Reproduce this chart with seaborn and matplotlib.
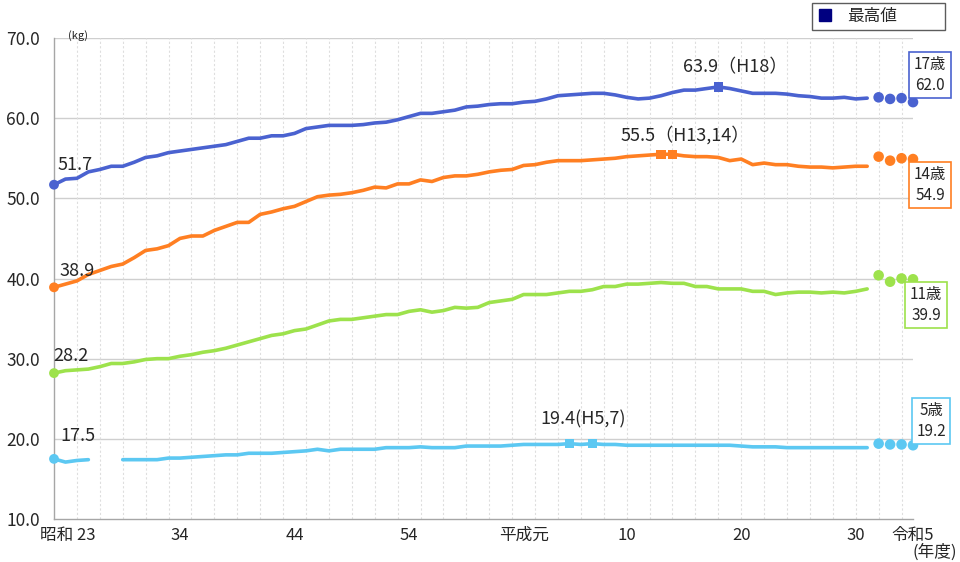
import numpy as np
import pandas as pd
import matplotlib
matplotlib.use("Agg")
import matplotlib.pyplot as plt
import seaborn as sns
from matplotlib.lines import Line2D
from matplotlib.transforms import blended_transform_factory

# ---------------- data ----------------
years = list(range(1948, 2020))
w17 = [51.7, 52.4, 52.5, 53.3, 53.6, 54.0, 54.0, 54.5, 55.1, 55.3,
       55.7, 55.9, 56.1, 56.3, 56.5, 56.7, 57.1, 57.5, 57.5, 57.8,
       57.8, 58.1, 58.7, 58.9, 59.1, 59.1, 59.1, 59.2, 59.4, 59.5,
       59.8, 60.2, 60.6, 60.6, 60.8, 61.0, 61.4, 61.5, 61.7, 61.8,
       61.8, 62.0, 62.1, 62.4, 62.8, 62.9, 63.0, 63.1, 63.1, 62.9,
       62.6, 62.4, 62.5, 62.8, 63.2, 63.5, 63.5, 63.7, 63.9, 63.7,
       63.4, 63.1, 63.1, 63.1, 63.0, 62.8, 62.7, 62.5, 62.5, 62.6,
       62.4, 62.5]
w14 = [38.9, 39.3, 39.7, 40.5, 41.0, 41.5, 41.8, 42.6, 43.5, 43.7,
       44.1, 45.0, 45.3, 45.3, 46.0, 46.5, 47.0, 47.0, 48.0, 48.3,
       48.7, 49.0, 49.6, 50.2, 50.4, 50.5, 50.7, 51.0, 51.4, 51.3,
       51.8, 51.8, 52.3, 52.1, 52.6, 52.8, 52.8, 53.0, 53.3, 53.5,
       53.6, 54.1, 54.2, 54.5, 54.7, 54.7, 54.7, 54.8, 54.9, 55.0,
       55.2, 55.3, 55.4, 55.5, 55.5, 55.3, 55.2, 55.2, 55.1, 54.7,
       54.9, 54.2, 54.4, 54.2, 54.2, 54.0, 53.9, 53.9, 53.8, 53.9,
       54.0, 54.0]
w11 = [28.2, 28.5, 28.6, 28.7, 29.0, 29.4, 29.4, 29.6, 29.9, 30.0,
       30.0, 30.3, 30.5, 30.8, 31.0, 31.3, 31.7, 32.1, 32.5, 32.9,
       33.1, 33.5, 33.7, 34.2, 34.7, 34.9, 34.9, 35.1, 35.3, 35.5,
       35.5, 35.9, 36.1, 35.8, 36.0, 36.4, 36.3, 36.4, 37.0, 37.2,
       37.4, 38.0, 38.0, 38.0, 38.2, 38.4, 38.4, 38.6, 39.0, 39.0,
       39.3, 39.3, 39.4, 39.5, 39.4, 39.4, 39.0, 39.0, 38.7, 38.7,
       38.7, 38.4, 38.4, 38.0, 38.2, 38.3, 38.3, 38.2, 38.3, 38.2,
       38.4, 38.7]
w5 = [17.5, 17.1, 17.3, 17.4, np.nan, np.nan, 17.4, 17.4, 17.4, 17.4,
      17.6, 17.6, 17.7, 17.8, 17.9, 18.0, 18.0, 18.2, 18.2, 18.2,
      18.3, 18.4, 18.5, 18.7, 18.5, 18.7, 18.7, 18.7, 18.7, 18.9,
      18.9, 18.9, 19.0, 18.9, 18.9, 18.9, 19.1, 19.1, 19.1, 19.1,
      19.2, 19.3, 19.3, 19.3, 19.3, 19.4, 19.3, 19.4, 19.3, 19.3,
      19.2, 19.2, 19.2, 19.2, 19.2, 19.2, 19.2, 19.2, 19.2, 19.2,
      19.1, 19.0, 19.0, 19.0, 18.9, 18.9, 18.9, 18.9, 18.9, 18.9,
      18.9, 18.9]

recent_years = [2020, 2021, 2022, 2023]
r17 = [62.6, 62.4, 62.5, 62.0]
r14 = [55.2, 54.7, 55.0, 54.9]
r11 = [40.4, 39.6, 40.0, 39.9]
r5 = [19.4, 19.3, 19.3, 19.2]

ages = ["17歳", "14歳", "11歳", "5歳"]
peak_age = ["17歳", "14歳", "14歳", "5歳", "5歳"]
peak_year = [2006, 2001, 2002, 1993, 1995]
peak_val = [63.9, 55.5, 55.5, 19.4, 19.4]

xtick_pos = [1949.2, 1959, 1969, 1979, 1989, 1998, 2008, 2018, 2023]
xtick_lab = ["昭和 23", "34", "44", "54", "平成元", "10", "20", "30", "令和5"]

palette = {"17歳": "#4A62D0", "14歳": "#FF7F22", "11歳": "#9DE24C", "5歳": "#5CC8F2"}

# ---------------- frames ----------------
rows = []
for age, vals in zip(ages, [w17, w14, w11, w5]):
    seg = 0
    for y, v in zip(years, vals):
        if np.isnan(v):
            seg = 1
            continue
        rows.append({"year": y, "weight": v, "age": age, "seg": seg})
df = pd.DataFrame(rows)

rec = pd.DataFrame([{"year": y, "weight": v, "age": a}
                    for a, vals in zip(ages, [r17, r14, r11, r5])
                    for y, v in zip(recent_years, vals)])
start = df[df["year"] == 1948]
peaks = pd.DataFrame({"year": peak_year, "weight": peak_val, "age": peak_age})

# ---------------- plot ----------------
sns.set_theme(style="white")
plt.rcParams["font.family"] = ["Noto Sans CJK JP", "DejaVu Sans"]

fig = plt.figure(figsize=(9.6, 5.62), dpi=100)
ax = fig.add_axes([54 / 960, 1 - 519 / 562, (913 - 54) / 960, (519 - 38) / 562])

ax.set_xlim(1948, 2023)
ax.set_ylim(10, 70)

# grids
for v in range(20, 71, 10):
    ax.axhline(v, color="#CFCFCF", lw=1.0, zorder=0)
for yr in range(1950, 2023, 2):
    ax.axvline(yr, color="#DEDEDE", lw=0.8, ls=(0, (2, 2)), zorder=0)

sns.lineplot(data=df, x="year", y="weight", hue="age", units="seg",
             estimator=None, palette=palette, lw=2.6, legend=False, ax=ax,
             zorder=3)
sns.scatterplot(data=start, x="year", y="weight", hue="age", palette=palette,
                s=50, linewidth=0, legend=False, ax=ax, clip_on=False, zorder=4)
sns.scatterplot(data=rec, x="year", y="weight", hue="age", palette=palette,
                s=58, linewidth=0, legend=False, ax=ax, clip_on=False, zorder=4)
sns.scatterplot(data=peaks, x="year", y="weight", hue="age", palette=palette,
                marker="s", s=45, linewidth=0, legend=False, ax=ax, zorder=5)

# axes styling
for s in ["top", "right"]:
    ax.spines[s].set_visible(False)
for s in ["left", "bottom"]:
    ax.spines[s].set_color("#A6A6A6")
    ax.spines[s].set_linewidth(1.0)

ax.set_yticks(range(10, 71, 10))
ax.set_yticklabels([f"{v:.1f}" for v in range(10, 71, 10)], fontsize=12.5)
ax.tick_params(axis="y", length=0, pad=10)
ax.set_xticks(range(1950, 2023, 2))
ax.set_xticklabels([])
ax.tick_params(axis="x", direction="in", length=4, color="#A6A6A6", width=0.8)
ax.set_xlabel("")
ax.set_ylabel("")

trans = blended_transform_factory(ax.transData, ax.transAxes)
for p, lab in zip(xtick_pos, xtick_lab):
    ax.text(p, -0.034, lab, transform=trans, ha="center", va="center",
            fontsize=12)
fig.text(935 / 960, 1 - 552 / 562, "(年度)", ha="center", va="center", fontsize=12)

# annotations
ax.text(1950.1, 70.3, "(kg)", fontsize=8, ha="center", va="center")
ax.text(1948.35, 54.2, "51.7", fontsize=13, ha="left", va="center")
ax.text(1948.45, 40.95, "38.9", fontsize=13, ha="left", va="center")
ax.text(1947.95, 30.35, "28.2", fontsize=13, ha="left", va="center")
ax.text(1948.55, 20.4, "17.5", fontsize=13, ha="left", va="center")
ax.text(2007.5, 66.4, "63.9（H18）", fontsize=13, ha="center", va="center")
ax.text(2003.1, 57.9, "55.5（H13,14）", fontsize=13, ha="center", va="center")
ax.text(1994.2, 22.4, "19.4(H5,7)", fontsize=13, ha="center", va="center")

# end boxes
boxes = [("17歳\n62.0", 930, 75, "17歳"), ("14歳\n54.9", 930, 185, "14歳"),
         ("11歳\n39.9", 926, 305, "11歳"), ("5歳\n19.2", 931, 421, "5歳")]
for txt, px, py, a in boxes:
    fig.text(px / 960, 1 - py / 562, txt, ha="center", va="center",
             fontsize=11, linespacing=1.25,
             bbox=dict(boxstyle="square,pad=0.3", facecolor="white",
                       edgecolor=palette[a], lw=1.2))

# legend
handle = Line2D([], [], marker="s", color="none", markerfacecolor="#000080",
                markeredgecolor="#000080", markersize=8, label="最高値")
fig.legend(handles=[handle], loc="lower left",
           bbox_to_anchor=(812 / 960, 1 - 30 / 562, 133 / 960, 28 / 562),
           mode="expand", borderaxespad=0, frameon=True, fancybox=False,
           edgecolor="#333333", fontsize=12, handlelength=1.0,
           handletextpad=0.8, borderpad=0.3)

fig.savefig("out.png", dpi=100)
